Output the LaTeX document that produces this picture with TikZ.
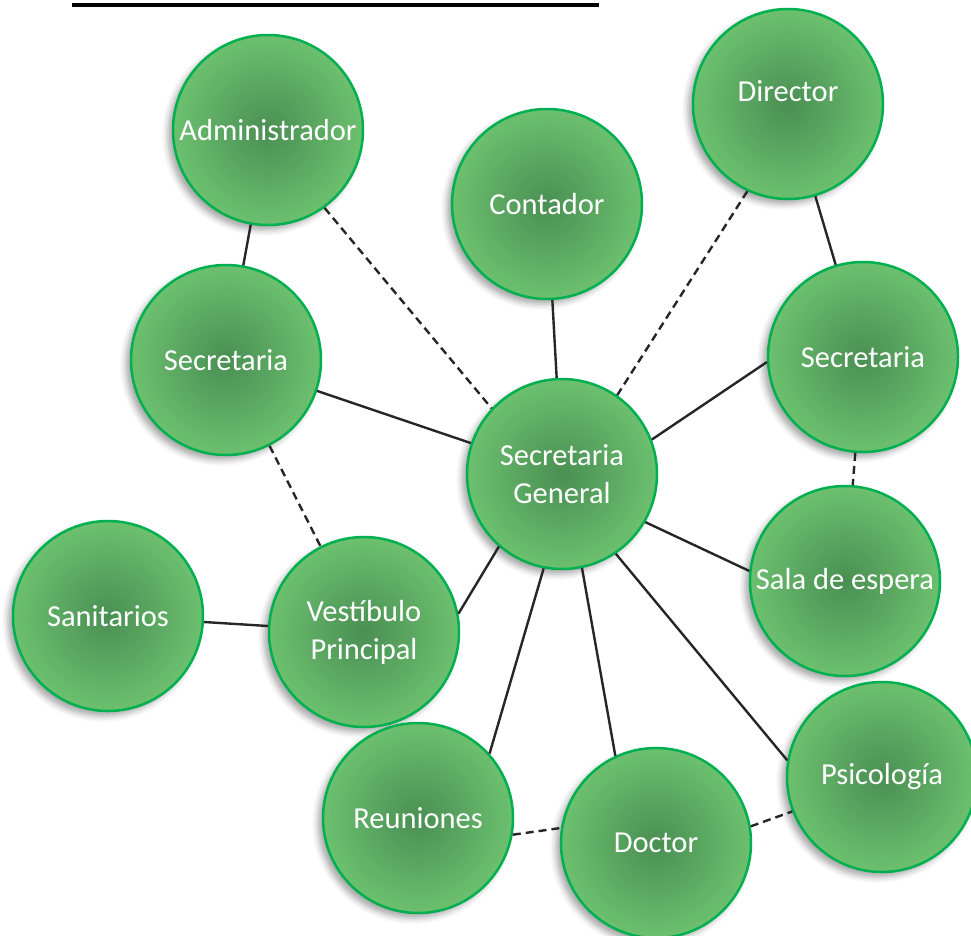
\documentclass[tikz,border=0pt]{standalone}
\usepackage{fontspec}
\setmainfont{Carlito}
\usetikzlibrary{shadows.blur}
\definecolor{verdeborde}{HTML}{00B050}
\definecolor{verdeclaro}{HTML}{6CC06F}
\definecolor{verdeoscuro}{HTML}{4A8F53}

\begin{document}
\begin{tikzpicture}[x=1pt,y=-1pt,
    area/.style={circle, draw=verdeborde, line width=2.5pt, minimum size=190pt,
      inner sep=0pt, inner color=verdeoscuro, outer color=verdeclaro,
      text=white, align=center, font=\fontsize{30.5}{38}\selectfont,
      blur shadow={shadow xshift=-5pt, shadow yshift=-5pt,
        shadow blur radius=6pt, shadow opacity=35}},
    enlace/.style={line width=2.4pt, black!85},
    enlacep/.style={enlace, dash pattern=on 8pt off 5pt}]

    \useasboundingbox (0,0) rectangle (971,935);
    \fill (72,3) rectangle (599,7);

    % areas
    \node[area] (adm) at (268,130) {Administrador};
    \node[area] (dir) at (788,104) {Director\\[-12pt]};
    \node[area] (con) at (547,204) {Contador};
    \node[area] (secL) at (226,360) {Secretaria};
    \node[area] (secR) at (863,357) {Secretaria};
    \node[area] (sg) at (562,474) {Secretaria\\General};
    \node[area] (sala) at (845,581) {Sala de espera};
    \node[area] (san) at (108,616) {Sanitarios};
    \node[area] (ves) at (364,632) {Vestíbulo\\Principal};
    \node[area] (reu) at (418,818) {Reuniones};
    \node[area] (doc) at (656,843) {Doctor};
    \node[area] (psi) at (882,777) {Psicología};

    % enlaces
    \draw[enlace] (adm) -- (secL);
    \draw[enlacep] (adm.-54) -- (sg.137);
    \draw[enlace] (con) -- (sg);
    \draw[enlacep] (dir.245) -- (sg.55);
    \draw[enlace] (dir) -- (secR);
    \draw[enlace] (secL) -- (sg);
    \draw[enlace] (secR.183) -- (sg.21);
    \draw[enlacep] (secR) -- (sala);
    \draw[enlace] (sg.-30) -- (sala.174);
    \draw[enlacep] (secL) -- (ves);
    \draw[enlace] (san) -- (ves);
    \draw[enlace] (sg.229) -- (ves.11);
    \draw[enlace] (sg.259) -- (reu.42);
    \draw[enlace] (sg.-78) -- (doc.115);
    \draw[enlace] (sg.-56) -- (psi.170);
    \draw[enlacep] (reu.-10) -- (doc.171);
    \draw[enlacep] (doc.10) -- (psi.201);
\end{tikzpicture}
\end{document}
